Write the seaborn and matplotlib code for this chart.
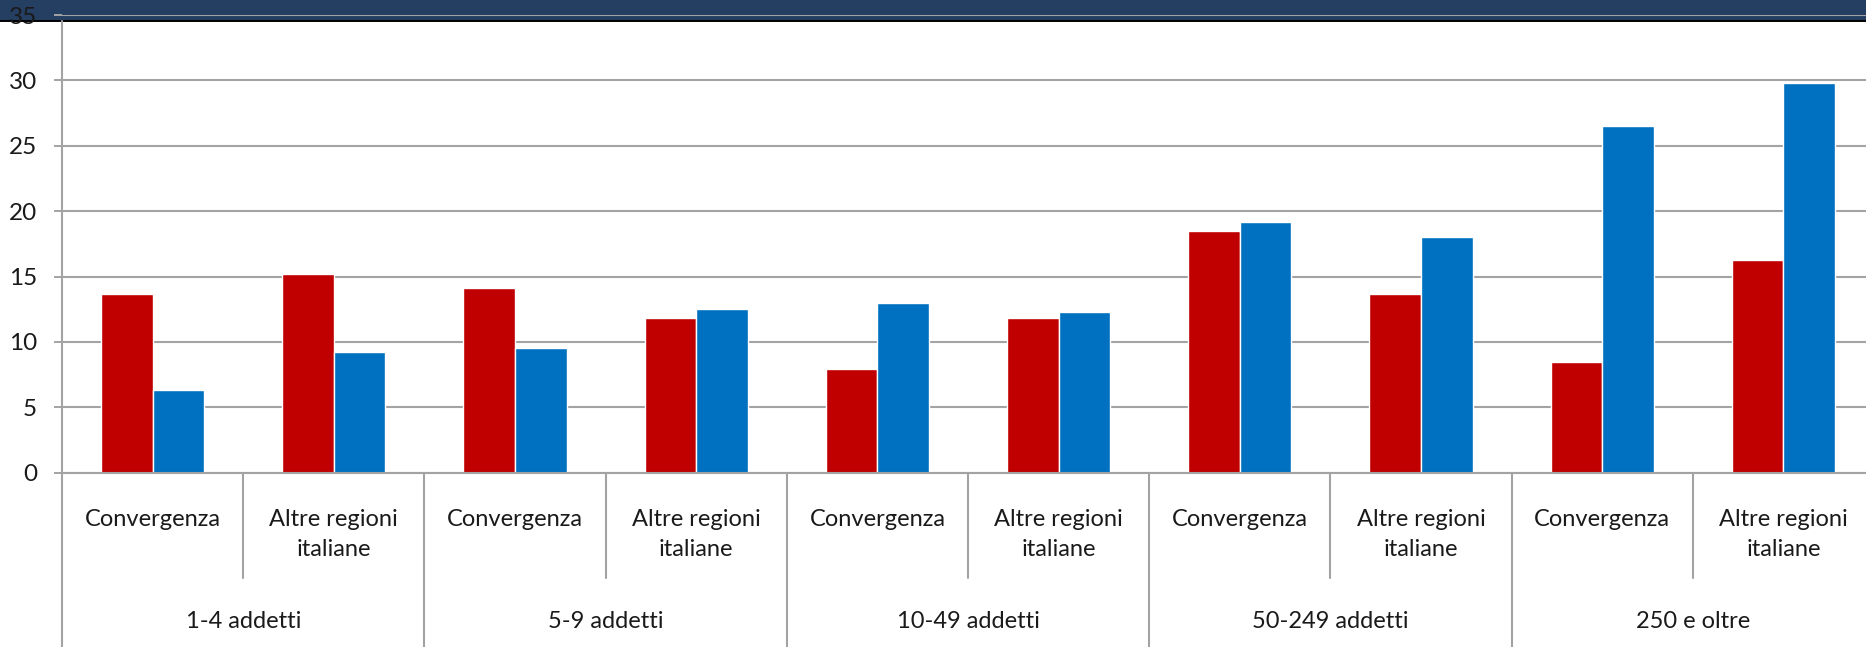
import pandas as pd
import matplotlib
matplotlib.use("Agg")
import matplotlib.pyplot as plt
import matplotlib.transforms as mtransforms
from matplotlib.patches import Rectangle
from matplotlib.lines import Line2D
import seaborn as sns

# data
size_classes = ["1-4 addetti", "5-9 addetti", "10-49 addetti", "50-249 addetti", "250 e oltre"]
regions = ["Convergenza", "Altre regioni\nitaliane"]
red_values = [13.7, 15.2, 14.1, 11.8, 7.9, 11.8, 18.5, 13.7, 8.5, 16.3]
blue_values = [6.3, 9.2, 9.5, 12.5, 13.0, 12.3, 19.2, 18.0, 26.5, 29.8]
y_ticks = [0, 5, 10, 15, 20, 25, 30, 35]

RED = "#C00000"
BLUE = "#0070C0"
GRID = "#A3A3A3"
TEXT = "#1a1a1a"

slots = [f"{s}|{r}" for s in size_classes for r in regions]
df = pd.DataFrame({
    "slot": slots * 2,
    "value": red_values + blue_values,
    "serie": ["rossa"] * len(slots) + ["blu"] * len(slots),
})

sns.set_style("white")
plt.rcParams["font.family"] = ["Lato", "DejaVu Sans"]

W, H = 1866, 647
fig = plt.figure(figsize=(W / 100, H / 100), dpi=100)
ax = fig.add_axes([62 / W, (H - 472.7) / H, 1812 / W, (472.7 - 15) / H])

sns.barplot(data=df, x="slot", y="value", hue="serie", order=slots,
            hue_order=["rossa", "blu"], palette=[RED, BLUE], width=0.57,
            saturation=1, legend=False, ax=ax, zorder=2)

ax.set_ylim(0, 35)
ax.set_xlim(-0.5, len(slots) - 0.5)
ax.set_yticks(y_ticks)
ax.set_xticks(range(len(slots)))
ax.set_xticklabels([s.split("|")[1] for s in slots], fontsize=17, color=TEXT,
                   linespacing=1.55)
ax.set_xlabel("")
ax.set_ylabel("")
ax.tick_params(axis="y", labelsize=17.5, labelcolor=TEXT, length=5.8, width=1.4,
               color=GRID, pad=12, direction="out", left=True)
ax.tick_params(axis="x", length=0, pad=26)
ax.yaxis.grid(True, color=GRID, linewidth=1.5)
ax.xaxis.grid(False)
ax.set_axisbelow(True)
for side in ["top", "right"]:
    ax.spines[side].set_visible(False)
ax.spines["bottom"].set_color(GRID)
ax.spines["bottom"].set_linewidth(1.5)
ax.spines["left"].set_visible(False)

# dark header band across the top
ax.add_patch(Rectangle((0, 1 - 21 / H), 1, 21 / H, transform=fig.transFigure,
                       facecolor="#253F62", edgecolor="none", clip_on=False, zorder=0.3))
ax.add_artist(Line2D([0, 1], [1 - 21 / H, 1 - 21 / H], transform=fig.transFigure,
                     color="black", linewidth=1.4, clip_on=False, zorder=0.35))

# multi-level category separators
trans = mtransforms.blended_transform_factory(ax.transData, fig.transFigure)
top_axis = (H - 472.7) / H
inner_bottom = (H - 578) / H
ax.add_artist(Line2D([-0.5, -0.5], [0, 1 - 21 / H], transform=trans, color=GRID,
                     linewidth=1.5, clip_on=False))
for i in range(len(slots) - 1):
    x = i + 0.5
    y_end = 0 if (i + 1) % len(regions) == 0 else inner_bottom
    ax.add_artist(Line2D([x, x], [y_end, top_axis], transform=trans, color=GRID,
                         linewidth=1.5, clip_on=False))

for g, name in enumerate(size_classes):
    x = g * len(regions) + (len(regions) - 1) / 2
    ax.text(x, 25 / H, name, transform=trans, ha="center", va="center",
            fontsize=17, color=TEXT)

fig.savefig("out.png", dpi=100)
